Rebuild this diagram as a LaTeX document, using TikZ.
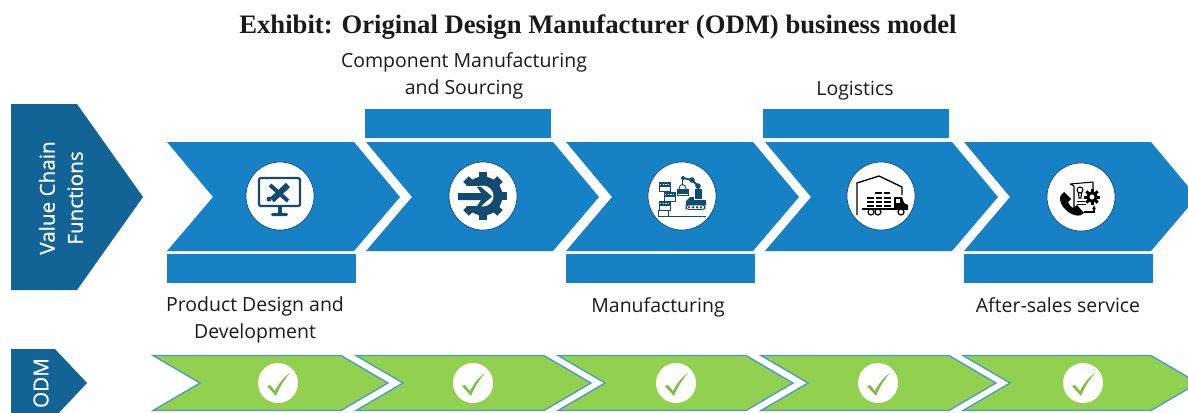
\documentclass[tikz,border=0pt]{standalone}
\usepackage{fontspec}
\setmainfont{Open Sans}
\newfontfamily\titlefont{Liberation Serif}
\newfontfamily\sidefont[FakeBold=0.6]{Open Sans}
\definecolor{ink}{HTML}{1A1A1A}
\definecolor{chain}{HTML}{1681C4}
\definecolor{chaindark}{HTML}{136496}
\definecolor{icon}{HTML}{134A70}
\definecolor{leaf}{HTML}{92D050}
\definecolor{leafline}{HTML}{4A9BC8}
\definecolor{tickgreen}{HTML}{7DBF45}
\usetikzlibrary{arrows.meta,positioning,calc}
\tikzset{
  every node/.style={text=ink},
  heading/.style={font=\titlefont\bfseries\fontsize{20}{24}\selectfont},
  caption/.style={font=\fontsize{14.6}{20.5}\selectfont, align=center},
  sidehead/.style={font=\sidefont\fontsize{15.5}{21}\selectfont, text=white, align=center, rotate=90},
  sidearrow/.style={fill=chaindark},
  bar/.style={fill=chain},
  chevron/.style={fill=chain},
  greenchevron/.style={fill=leaf, draw=leafline, line width=1pt},
  disc/.style={circle, fill=white, draw=icon, line width=.5pt, minimum size=51pt, inner sep=0pt},
  smalldisc/.style={circle, fill=white, minimum size=30pt, inner sep=0pt},
  iconline/.style={draw=icon, line width=1.3pt},
  thinline/.style={draw=icon, line width=.7pt},
  blackline/.style={draw=black, line width=1pt}
}
\begin{document}
\begin{tikzpicture}[x=.75pt,y=-.75pt]
  \useasboundingbox (0,0) rectangle (1188,412);
  \clip (0,0) rectangle (1188,412);
  \node[heading] (title) at (598,27) {Exhibit: Original Design Manufacturer (ODM) business model};

  % Side arrows
  \fill[sidearrow] (11,104) -- (77,104) -- (143,197) -- (77,290) -- (11,290) -- cycle;
  \fill[sidearrow] (11,349) -- (55,349) -- (87,383) -- (55,417) -- (11,417) -- cycle;
  \node[sidehead] (chainhead) at (61,198) {Value Chain\\Functions};
  \node[sidehead] (odmhead) at (41,383) {ODM};

  % Blue chevrons
  \foreach \x in {167,366,566,765,964}{
    \fill[chevron] (\x,142) -- (\x+187,142) -- (\x+233,197) -- (\x+187,251) -- (\x,251) -- (\x+46,197) -- cycle;
  }
  % Bars
  \foreach \x in {167,566,964} \fill[bar] (\x,254) rectangle ++(189,29);
  \foreach \x in {365,763} \fill[bar] (\x,109) rectangle ++(186,29);

  % Green chevrons
  \foreach \x in {153,356,558,761,963}{
    \filldraw[greenchevron] (\x,355.5) -- (\x+188,355.5) -- (\x+235,383) -- (\x+188,410.5) -- (\x,410.5) -- (\x+47,383) -- cycle;
  }
  \foreach \x/\n in {278/a,473/b,676/c,878/d,1083/e}{
    \node[smalldisc] (check\n) at (\x,383) {};
    \fill[tickgreen] (\x-11,386) -- (\x-8,385) -- (\x-3,391) .. controls (\x+1,383) and (\x+6,377) .. (\x+12,373)
      .. controls (\x+6,380) and (\x+1,388) .. (\x-2,396) -- cycle;
  }

  % Discs
  \node[disc] (design) at (280,196) {};
  \node[disc] (source) at (483,196) {};
  \node[disc] (make) at (682,196) {};
  \node[disc] (truck) at (881,196) {};
  \node[disc] (service) at (1081,197) {};

  % Design icon
  \draw[iconline, line width=1.7pt, rounded corners=1.5pt] (259,178) rectangle (300,206);
  \fill[icon] (277.5,207) rectangle (281.5,213);
  \fill[icon, rounded corners=1pt] (271,213) rectangle (288,216);
  \draw[icon, line width=3pt] (270,185) -- (288,201);
  \draw[icon, line width=4.5pt] (288,185) -- (272,200);
  \fill[icon] (269,199) circle (2.5);

  % Gear icon
  \foreach \a in {0,45,...,315}{
    \fill[icon, rotate around={\a:(483,196)}] (479,172) rectangle (487,180);
  }
  \fill[icon] (483,196) circle (19.5);
  \fill[white] (483,196) circle (10.5);
  \fill[white] (456,186) -- (478,186) -- (478,206) -- (456,206) -- cycle;
  \fill[icon] (458,193) -- (481,193) -- (477,187) -- (481,187) -- (492,196.5) -- (481,206) -- (477,206) -- (481,200) -- (458,200) -- cycle;

  % Factory icon
  \foreach \x/\y in {659/182,664/192,659/201}{
    \draw[thinline] (\x,\y) rectangle ++(11,9.5);
    \fill[icon] (\x,\y) rectangle ++(11,5);
    \draw[white, line width=.5pt, dash pattern=on 1pt off 1pt] (\x+1,\y+2.5) -- ++(9,0);
  }
  \draw[thinline] (658,210.5) rectangle (668,216);
  \draw[thinline] (658,216) -- (706,216);
  \draw[thinline] (677,189) rectangle (688,195.5);
  \fill[icon] (677,190) rectangle (688,193.5);
  \draw[thinline] (679,189) .. controls (679,183) and (686,183) .. (686,189);
  \draw[thinline] (682.5,179) -- (682.5,184);
  \draw[icon, line width=1.4pt] (683,178) -- (692,180) -- (698,186) -- (699,194);
  \fill[icon] (683,178) circle (2) (692,180) circle (2.8) (698,186) circle (2.8);
  \fill[icon] (695,189) rectangle (702,199);
  \fill[icon] (686,201) -- (690,197) -- (694,197) -- (694,200) -- (706,200) -- (706,205) -- (686,205) -- cycle;
  \draw[thinline, rounded corners=2pt] (686,205) rectangle (705,209.5);
  \foreach \x in {689,693,697,701} \fill[icon] (\x,207.3) circle (1.3);

  % Truck icon
  \draw[blackline] (857,215) -- (857,183) -- (879,176) -- (902,187) -- (902,195);
  \foreach \y/\xa/\xb in {193/875/882,193/884/890,198/867/874,198/876/882,198/884/891,202/867/874,202/876/882,202/884/891,206/867/874,206/876/882,206/884/891}
    \draw[black, line width=1.4pt] (\xa,\y) -- (\xb,\y);
  \fill[black] (894,197) -- (902,197) -- (904,203) -- (908,205) -- (908,210) -- (894,210) -- cycle;
  \fill[white] (896,199) rectangle (900,203);
  \draw[black, line width=1.6pt] (862,209) -- (895,209);
  \foreach \x in {871,878,901} \filldraw[fill=white, draw=black, line width=.9pt] (\x,212) circle (3);

  % Service icon
  \draw[black, line width=.8pt] (1070,184) -- (1093,182) (1070,184) -- (1074,186) -- (1074,212) (1093,182) -- (1093,190);
  \draw[black, line width=.8pt] (1080,190) circle (3) (1078.5,193) -- (1079,198) -- (1081,198) -- (1081.5,193);
  \draw[black, line width=.7pt] (1077,201) -- (1085,201) (1077,204) -- (1086,204);
  \foreach \a in {0,45,...,315}{
    \fill[black, rotate around={\a:(1092,197)}] (1090.5,189) rectangle (1093.5,192);
  }
  \draw[black, line width=2.2pt] (1092,197) circle (4.2);
  \draw[black, line width=.9pt, -{Latex[length=3pt,width=3pt]}] (1084,212) -- (1094,212) -- (1094,205);
  \fill[black] (1064,192) .. controls (1058,195) and (1059,204) .. (1066,210)
    .. controls (1071,215) and (1080,218) .. (1084,213) -- (1077,205) -- (1073,208)
    .. controls (1071,207) and (1069,205) .. (1068,202) -- (1071,199) -- cycle;

  % Labels
  \node[caption] (lbdesign) at (255,320) {Product Design and\\Development};
  \node[caption] (lbsource) at (464,76) {Component Manufacturing\\and Sourcing};
  \node[caption, anchor=base] (lbmake) at (658,312) {Manufacturing};
  \node[caption, anchor=base] (lblog) at (855,95) {Logistics};
  \node[caption, anchor=base] (lbafter) at (1058,312) {After-sales service};
\end{tikzpicture}
\end{document}
